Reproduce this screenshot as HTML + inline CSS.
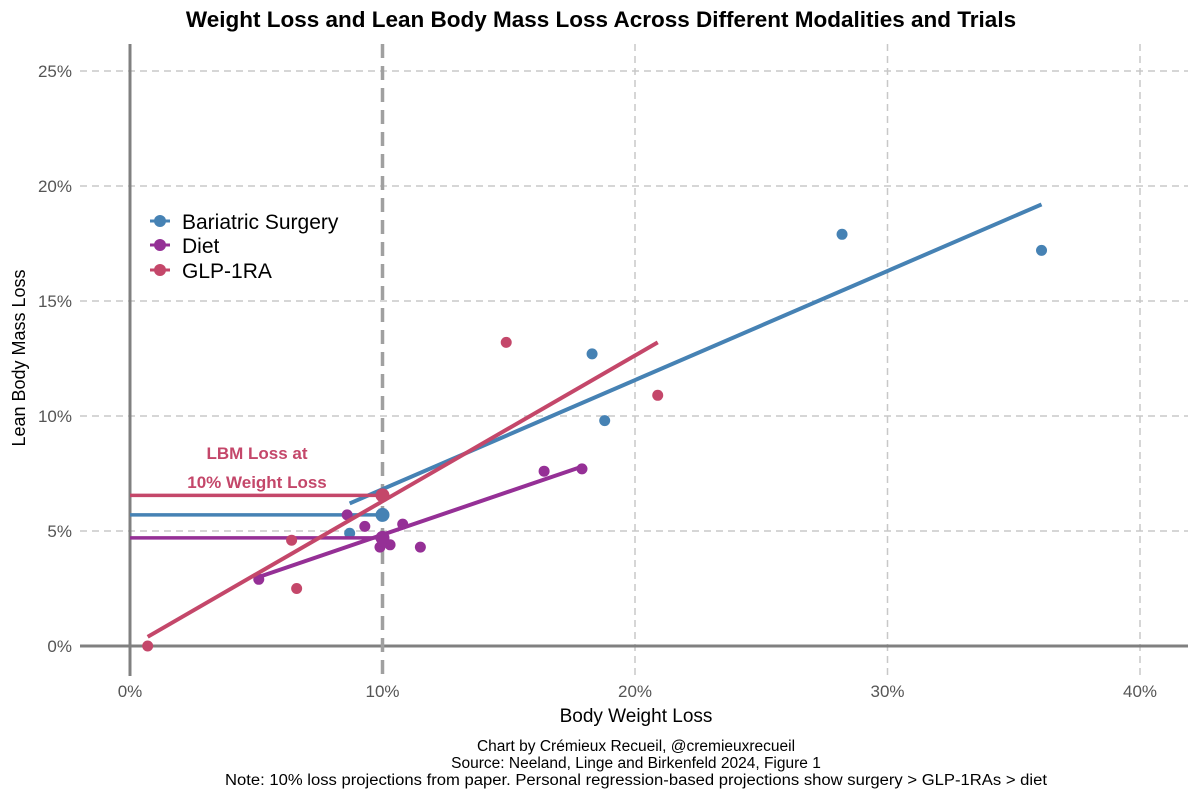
<!DOCTYPE html>
<html><head><meta charset="utf-8"><style>
body{margin:0;background:#fff;}
svg{font-family:"Liberation Sans",Arial,sans-serif;}
</style></head><body>
<svg id="chart" width="1200" height="800">
<text x="601" y="27" text-anchor="middle" font-size="22.5" font-weight="bold" fill="#000">Weight Loss and Lean Body Mass Loss Across Different Modalities and Trials</text>
<g id="grid"></g>
<g id="axes"></g>
<g id="marks"></g>
<text x="257" y="459" text-anchor="middle" font-size="17" font-weight="bold" fill="#c4476a">LBM Loss at</text>
<text x="257" y="488" text-anchor="middle" font-size="17" font-weight="bold" fill="#c4476a">10% Weight Loss</text>
<g>
<g><line x1="150" y1="221" x2="170" y2="221" stroke="#4682b4" stroke-width="3"/><circle cx="160" cy="221" r="6" fill="#4682b4"/><text x="182" y="229" font-size="21">Bariatric Surgery</text></g>
<g><line x1="150" y1="245" x2="170" y2="245" stroke="#953096" stroke-width="3"/><circle cx="160" cy="245" r="6" fill="#953096"/><text x="182" y="253" font-size="21">Diet</text></g>
<g><line x1="150" y1="270" x2="170" y2="270" stroke="#c4476a" stroke-width="3"/><circle cx="160" cy="270" r="6" fill="#c4476a"/><text x="182" y="278" font-size="21">GLP-1RA</text></g>
</g>
<text x="636" y="722" text-anchor="middle" font-size="19">Body Weight Loss</text>
<text transform="translate(25,358) rotate(-90)" text-anchor="middle" font-size="18">Lean Body Mass Loss</text>
<g font-size="15.5" text-anchor="middle">
<text x="636" y="751">Chart by Crémieux Recueil, @cremieuxrecueil</text>
<text x="636" y="768">Source: Neeland, Linge and Birkenfeld 2024, Figure 1</text>
<text x="636" y="785" textLength="822" lengthAdjust="spacingAndGlyphs">Note: 10% loss projections from paper. Personal regression-based projections show surgery &gt; GLP-1RAs &gt; diet</text>
</g>
</svg>
<script>
const xTicks=[0,10,20,30,40];
const yTicks=[0,5,10,15,20,25];
const bariX=[8.7,18.3,18.8,28.2,36.1];
const bariY=[4.9,12.7,9.8,17.9,17.2];
const bariProj=[10,5.7];
const bariLine=[[8.7,6.2],[36.1,19.2]];
const glpX=[0.7,6.4,6.6,14.9,20.9];
const glpY=[0,4.6,2.5,13.2,10.9];
const glpProj=[10,6.55];
const glpLine=[[0.7,0.4],[20.9,13.2]];
const dietX=[5.1,8.6,9.3,9.9,10.3,10.8,11.5,16.4,17.9];
const dietY=[2.9,5.7,5.2,4.3,4.4,5.3,4.3,7.6,7.7];
const dietProj=[10,4.7];
const dietLine=[[5.1,3.0],[17.9,7.8]];

const sx=v=>130+v*25.25, sy=v=>646-v*23;
const NS="http://www.w3.org/2000/svg";
function mk(parent,tag,attrs){const e=document.createElementNS(NS,tag);for(const k in attrs)e.setAttribute(k,attrs[k]);document.getElementById(parent).appendChild(e);return e;}
yTicks.forEach(t=>{
 if(t>0){const l=mk('grid','line',{x1:80,x2:1188,y1:sy(t),y2:sy(t),stroke:'#c8c8c8','stroke-width':1.5,'stroke-dasharray':'7,5'});
 
 }
 const tx=mk('axes','text',{x:72,y:sy(t)+6,'text-anchor':'end','font-size':17,fill:'#555'});tx.textContent=t+'%';
 
 
});
xTicks.forEach(t=>{
 if(t>10){const l=mk('grid','line',{x1:sx(t),x2:sx(t),y1:44,y2:676,stroke:'#c8c8c8','stroke-width':1.5,'stroke-dasharray':'7,5'});
 
 }
 const tx=mk('axes','text',{x:sx(t),y:697,'text-anchor':'middle','font-size':17,fill:'#555'});tx.textContent=t+'%';
 
 
});
let a=mk('axes','line',{x1:130,x2:130,y1:44,y2:676,stroke:'#808080','stroke-width':3});


a=mk('axes','line',{x1:80,x2:1188,y1:646,y2:646,stroke:'#808080','stroke-width':3});


a=mk('axes','line',{x1:sx(10),x2:sx(10),y1:44,y2:676,stroke:'#a0a0a0','stroke-width':3.5,'stroke-dasharray':'14,8'});



function series(name,col,xs,ys,proj,line){
 const h=mk('marks','line',{x1:130,x2:sx(proj[0]),y1:sy(proj[1]),y2:sy(proj[1]),stroke:col,'stroke-width':3.5});
 
 
 const r=mk('marks','line',{x1:sx(line[0][0]),y1:sy(line[0][1]),x2:sx(line[1][0]),y2:sy(line[1][1]),stroke:col,'stroke-width':4});
 
 
 xs.forEach((x,i)=>{const c=mk('marks','circle',{cx:sx(x),cy:sy(ys[i]),r:5.5,fill:col});
 
 });
 const p=mk('marks','circle',{cx:sx(proj[0]),cy:sy(proj[1]),r:7,fill:col});
 
 
}
series('bariatric','#4682b4',bariX,bariY,bariProj,bariLine);
series('diet','#953096',dietX,dietY,dietProj,dietLine);
series('glp1','#c4476a',glpX,glpY,glpProj,glpLine);
</script>
</body></html>
